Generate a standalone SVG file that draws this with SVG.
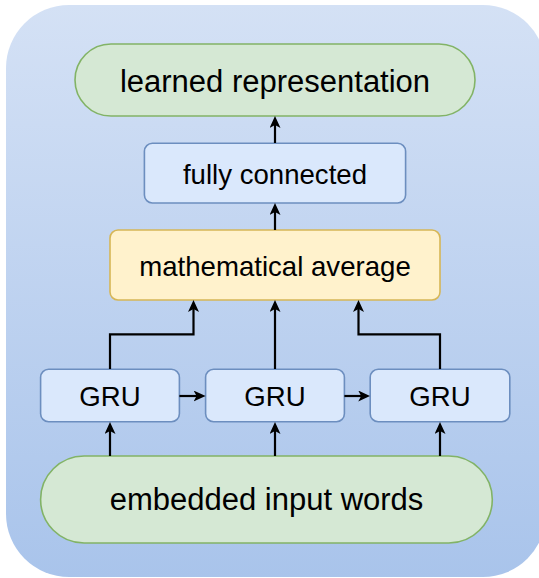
<svg xmlns="http://www.w3.org/2000/svg" width="539" height="578" viewBox="0 0 539 578">
<defs>
<linearGradient id="bg" x1="0" y1="0" x2="0" y2="1">
<stop offset="0" stop-color="#d4e1f5"/>
<stop offset="1" stop-color="#a9c4eb"/>
</linearGradient>
<marker id="arr" viewBox="0 0 12 11" refX="5" refY="5.5" markerWidth="12" markerHeight="11" orient="auto" markerUnits="userSpaceOnUse">
<path d="M0,0 L12,5.5 L0,11 L3,5.5 Z" fill="#000"/>
</marker>
</defs>
<style>
text { font-family: "Liberation Sans", Arial, sans-serif; fill: #000; text-anchor: middle; }
.green { fill: #d5e8d4; stroke: #82b366; stroke-width: 1.6; }
.blue { fill: #dae8fc; stroke: #6c8ebf; stroke-width: 1.6; }
.yellow { fill: #fff2cc; stroke: #d6b656; stroke-width: 1.6; }
.big { font-size: 31px; }
.mid { font-size: 27.6px; }
.conn path { fill: none; stroke: #000; stroke-width: 2.2; marker-end: url(#arr); }
</style>
<rect id="background" x="6" y="5" width="540" height="572" rx="63" ry="63" fill="url(#bg)"/>
<g id="learned">
<rect class="green" x="75" y="44" width="400" height="72" rx="36" ry="36"/>
<text class="big" x="275" y="92">learned representation</text>
</g>
<g id="fully">
<rect class="blue" x="144.4" y="143.3" width="261.2" height="59.7" rx="8" ry="8"/>
<text class="mid" x="275" y="184">fully connected</text>
</g>
<g id="average">
<rect class="yellow" x="110" y="230" width="330" height="70" rx="8" ry="8"/>
<text class="mid" x="275" y="276">mathematical average</text>
</g>
<g id="gru1">
<rect class="blue" x="40.6" y="369.3" width="138.8" height="52.4" rx="8" ry="8"/>
<text class="mid" x="110" y="406">GRU</text>
</g>
<g id="gru2">
<rect class="blue" x="205.6" y="369.3" width="138.8" height="52.4" rx="8" ry="8"/>
<text class="mid" x="275" y="406">GRU</text>
</g>
<g id="gru3">
<rect class="blue" x="370.2" y="369.3" width="139.6" height="52.4" rx="8" ry="8"/>
<text class="mid" x="440" y="406">GRU</text>
</g>
<g id="embedded">
<rect class="green" x="40.6" y="456" width="451.7" height="87" rx="43.5" ry="43.5"/>
<text class="big" x="266.5" y="510">embedded input words</text>
</g>
<g id="connectors" class="conn">
<path d="M275 143 V123"/>
<path d="M275 230 V210"/>
<path d="M110 369 V334.3 H193.5 V307"/>
<path d="M275 369 V307"/>
<path d="M440 369 V334.3 H358.5 V307"/>
<path d="M179.4 396 H198.6"/>
<path d="M344.4 396 H363.2"/>
<path d="M110 456 V429"/>
<path d="M275 456 V429"/>
<path d="M440 456 V429"/>
</g>
</svg>
